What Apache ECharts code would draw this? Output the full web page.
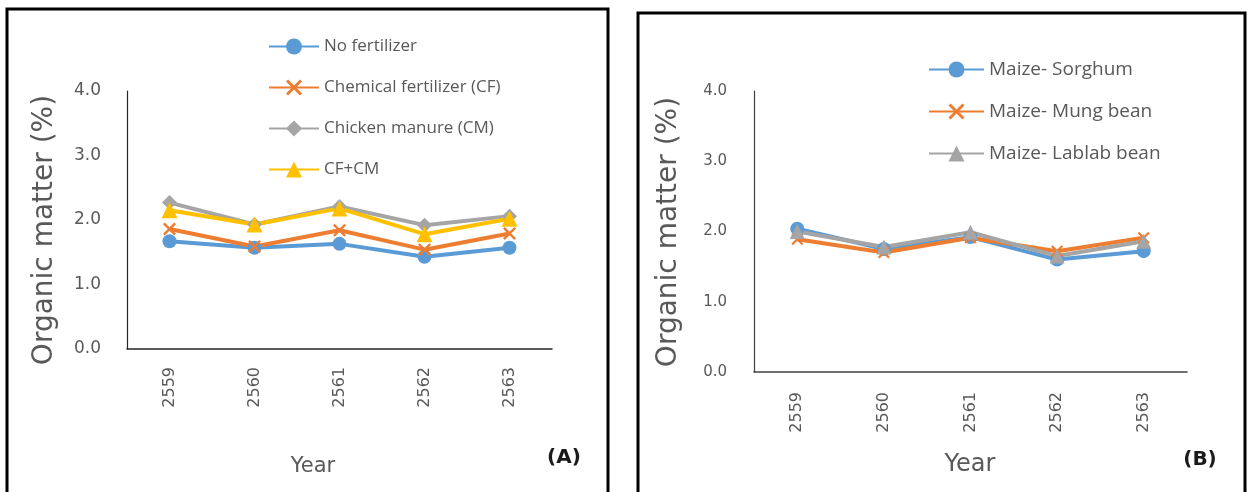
<!DOCTYPE html>
<html>
<head>
<meta charset="utf-8">
<script src="https://cdn.jsdelivr.net/npm/echarts@6/dist/echarts.min.js"></script>
<style>
html,body{margin:0;padding:0;background:#fff;}
#c{width:1254px;height:492px;}
</style>
</head>
<body>
<div id="c"></div>
<script>
const years = ['2559', '2560', '2561', '2562', '2563'];
const yTicks = [0, 1, 2, 3, 4];

// Panel A
const noFertilizer = [1.67, 1.57, 1.63, 1.43, 1.57];
const chemicalFertilizer = [1.86, 1.59, 1.84, 1.54, 1.79];
const chickenManure = [2.27, 1.93, 2.21, 1.92, 2.06];
const cfPlusCm = [2.15, 1.93, 2.18, 1.78, 2.02];

// Panel B
const maizeSorghum = [2.04, 1.75, 1.92, 1.60, 1.72];
const maizeMungBean = [1.89, 1.70, 1.91, 1.72, 1.91];
const maizeLablabBean = [2.00, 1.78, 1.99, 1.65, 1.86];

const namesA = ['No fertilizer', 'Chemical fertilizer (CF)', 'Chicken manure (CM)', 'CF+CM'];
const namesB = ['Maize- Sorghum', 'Maize- Mung bean', 'Maize- Lablab bean'];
const yTitle = 'Organic matter (%)';
const xTitle = 'Year';

const BLUE = '#5B9BD5', ORANGE = '#ED7D31', GREY = '#A5A5A5', YELLOW = '#FFC000';
const XSYM = 'path://M0,1.3L1.3,0L5,3.7L8.7,0L10,1.3L6.3,5L10,8.7L8.7,10L5,6.3L1.3,10L0,8.7L3.7,5Z';
const FONT = 'DejaVu Sans';
const TXT = '#595959';

function yAxisCfg(gridIndex, fs, margin, axColor) {
  return {
    type: 'value', gridIndex: gridIndex, min: 0, max: 4, interval: 1,
    axisLine: { show: true, lineStyle: { color: axColor, width: 1.2 } },
    axisTick: { show: false }, splitLine: { show: false },
    axisLabel: { fontFamily: FONT, fontSize: fs, color: TXT, margin: margin,
      formatter: v => yTicks.includes(v) ? v.toFixed(1) : '' }
  };
}
function xAxisCfg(gridIndex, margin, axColor) {
  return {
    type: 'category', gridIndex: gridIndex, data: years, boundaryGap: true,
    axisLine: { show: true, lineStyle: { color: axColor, width: 1.5 } },
    axisTick: { show: false },
    axisLabel: { rotate: 90, fontFamily: FONT, fontSize: 16, color: TXT, margin: margin }
  };
}
function lineSeries(name, data, color, symbol, size, xi, lw) {
  return {
    type: 'line', name: name, data: data, xAxisIndex: xi, yAxisIndex: xi,
    symbol: symbol, symbolSize: size, showSymbol: true,
    lineStyle: { color: color, width: lw }, itemStyle: { color: color },
    emphasis: { disabled: true }, animation: false
  };
}

const chart = echarts.init(document.getElementById('c'), null, { renderer: 'canvas' });
chart.setOption({
  backgroundColor: '#fff',
  animation: false,
  grid: [
    { left: 127, top: 91, width: 425, height: 258 },
    { left: 754, top: 91, width: 433, height: 281 }
  ],
  xAxis: [xAxisCfg(0, 18, '#262626'), xAxisCfg(1, 20, '#404040')],
  yAxis: [yAxisCfg(0, 17, 26, '#262626'), yAxisCfg(1, 15, 27, '#404040')],
  legend: [
    { data: namesA, orient: 'vertical', left: 268, top: 38, padding: 0, itemWidth: 50, itemHeight: 20, itemGap: 24,
      textStyle: { fontFamily: 'Open Sans', fontSize: 17, color: TXT } },
    { data: namesB, orient: 'vertical', left: 928, top: 60, padding: 0, itemWidth: 55, itemHeight: 20, itemGap: 23,
      textStyle: { fontFamily: 'Open Sans', fontSize: 19, color: TXT } }
  ],
  graphic: [
    { type: 'rect', shape: { x: 7, y: 9, width: 601, height: 500 }, style: { fill: 'none', stroke: '#000', lineWidth: 3 } },
    { type: 'rect', shape: { x: 638, y: 13, width: 607, height: 500 }, style: { fill: 'none', stroke: '#000', lineWidth: 3 } },
    { type: 'text', x: 45, y: 230, rotation: Math.PI / 2,
      style: { text: yTitle, font: '28px "DejaVu Sans"', fill: TXT, align: 'center', verticalAlign: 'middle' } },
    { type: 'text', x: 669, y: 232, rotation: Math.PI / 2,
      style: { text: yTitle, font: '28px "DejaVu Sans"', fill: TXT, align: 'center', verticalAlign: 'middle' } },
    { type: 'text', x: 313, y: 467,
      style: { text: xTitle, font: '21px "DejaVu Sans"', fill: TXT, align: 'center', verticalAlign: 'middle' } },
    { type: 'text', x: 970, y: 465,
      style: { text: xTitle, font: '24px "DejaVu Sans"', fill: TXT, align: 'center', verticalAlign: 'middle' } },
    { type: 'text', x: 564, y: 458,
      style: { text: '(A)', font: 'bold 20px "DejaVu Sans"', fill: '#1a1a1a', align: 'center', verticalAlign: 'middle' } },
    { type: 'text', x: 1200, y: 460,
      style: { text: '(B)', font: 'bold 20px "DejaVu Sans"', fill: '#1a1a1a', align: 'center', verticalAlign: 'middle' } }
  ],
  series: [
    lineSeries(namesA[0], noFertilizer, BLUE, 'circle', 14, 0, 4),
    lineSeries(namesA[1], chemicalFertilizer, ORANGE, XSYM, 13, 0, 4),
    lineSeries(namesA[2], chickenManure, GREY, 'diamond', 15, 0, 4),
    lineSeries(namesA[3], cfPlusCm, YELLOW, 'triangle', 16, 0, 4),
    lineSeries(namesB[0], maizeSorghum, BLUE, 'circle', 14, 1, 4),
    lineSeries(namesB[1], maizeMungBean, ORANGE, XSYM, 12, 1, 4),
    lineSeries(namesB[2], maizeLablabBean, GREY, 'triangle', 15, 1, 4)
  ]
});
</script>
</body>
</html>
